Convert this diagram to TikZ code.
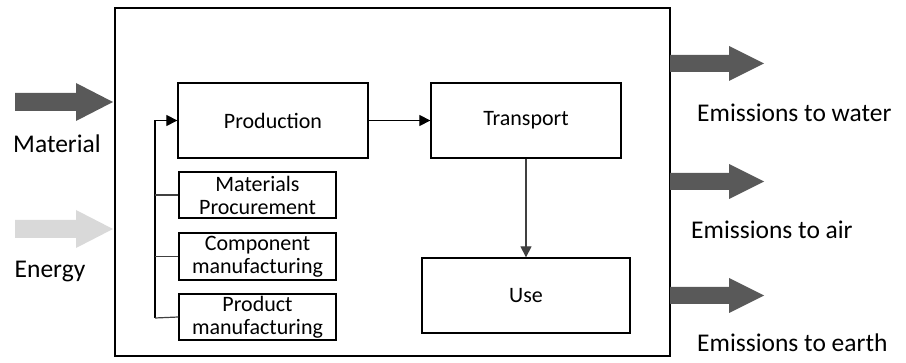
\documentclass[tikz,border=0pt]{standalone}
\usepackage{fontspec}
\setmainfont{Carlito}
\usetikzlibrary{arrows.meta,positioning}

\tikzset{
  stage/.style={draw=black,line width=1.3pt,inner sep=0pt,align=center,
    font=\fontsize{22}{23}\selectfont},
  flowlabel/.style={inner sep=0pt,font=\fontsize{25.5}{28}\selectfont},
  link/.style={line width=1.2pt,-{Triangle[length=11pt,width=11pt]}},
  branch/.style={line width=1.2pt,draw=black!75},
  darkflow/.style={fill=black!65},
  lightflow/.style={fill=black!15}
}

\begin{document}
\begin{tikzpicture}[x=1pt,y=-1pt]
\useasboundingbox (0,0) rectangle (906,363);
% system boundary
\draw [line width=1.3pt] (115,8) rectangle (670,356);
% stages
\node [stage,minimum width=190,minimum height=75] (prod) at (273,120.5) {Production};
\node [stage,minimum width=190,minimum height=75] (trans) at (526,120.5) {Transport};
\node [stage,minimum width=208,minimum height=75] (use) at (526,295.5) {Use};
\node [stage,minimum width=157,minimum height=46] (matproc) at (257.5,195) {Materials\\Procurement};
\node [stage,minimum width=157,minimum height=47] (compman) at (257.5,256.5) {Component\\manufacturing};
\node [stage,minimum width=157,minimum height=46] (prodman) at (257.5,317) {Product\\manufacturing};
% links
\coordinate (bus) at (155,318);
\draw [link] (prod.east) -- (trans.west);
\draw [link,draw=black!75] (trans.south) -- (use.north);
\draw [link] (bus) -- (bus |- prod.west) -- (prod.west);
\draw [branch] (matproc.west) -- (bus |- matproc.west);
\draw [branch] (compman.west) -- (bus |- compman.west);
\draw [branch] (prodman.west) -- (bus);
% inputs
\fill [darkflow] (15,93) -- (76,93) -- (76,83) -- (113,102) -- (76,121) -- (76,111) -- (15,111) -- cycle;
\fill [lightflow] (15,220) -- (76,220) -- (76,210) -- (113,229) -- (76,248) -- (76,238) -- (15,238) -- cycle;
\node [flowlabel] (material) at (57,144) {Material};
\node [flowlabel] (energy) at (50,272) {Energy};
% outputs
\fill [darkflow] (670,55) -- (729,55) -- (729,46) -- (764,63.5) -- (729,81) -- (729,72) -- (670,72) -- cycle;
\fill [darkflow] (670,173) -- (729,173) -- (729,164) -- (764,181.5) -- (729,199) -- (729,190) -- (670,190) -- cycle;
\fill [darkflow] (670,287) -- (729,287) -- (729,278) -- (764,295.5) -- (729,313) -- (729,304) -- (670,304) -- cycle;
\node [flowlabel,anchor=west] (water) at (697,113) {Emissions to water};
\node [flowlabel,anchor=west] (air) at (691,230) {Emissions to air};
\node [flowlabel,anchor=west] (earth) at (697,343) {Emissions to earth};
\end{tikzpicture}
\end{document}
